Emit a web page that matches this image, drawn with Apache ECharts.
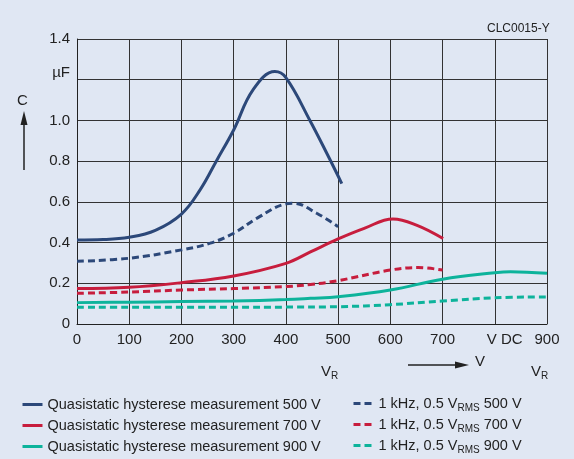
<!DOCTYPE html>
<html>
<head>
<meta charset="utf-8">
<script src="https://cdn.jsdelivr.net/npm/echarts@6/dist/echarts.min.js"></script>
<style>
  html, body { margin: 0; padding: 0; background: #e0e7f3; }
  #chart { width: 574px; height: 459px; }
</style>
</head>
<body>
<div id="chart"></div>
<script>
// values (V, uF)
var xTicks = ['0', '100', '200', '300', '400', '500', '600', '700', 'V DC', '900'];
var yTicks = ['0', '0.2', '0.4', '0.6', '0.8', '1.0', 'µF', '1.4'];

var q500X = [0, 50, 100, 150, 200, 236, 268, 300, 337, 379, 400, 446, 480, 507];
var q500Y = [0.413, 0.415, 0.426, 0.46, 0.54, 0.66, 0.806, 0.953, 1.15, 1.24, 1.21, 1.0, 0.83, 0.69];
var k500X = [0, 100, 200, 255, 300, 345, 400, 415, 459, 500];
var k500Y = [0.308, 0.323, 0.364, 0.397, 0.446, 0.52, 0.59, 0.593, 0.544, 0.478];

var q700X = [0, 100, 200, 300, 400, 447, 500, 550, 605, 650, 701];
var q700Y = [0.174, 0.18, 0.203, 0.236, 0.298, 0.354, 0.418, 0.47, 0.516, 0.486, 0.42];
var k700X = [0, 100, 200, 300, 400, 447, 500, 600, 653, 700];
var k700Y = [0.151, 0.157, 0.167, 0.174, 0.184, 0.194, 0.213, 0.265, 0.277, 0.265];

var q900X = [0, 100, 200, 300, 400, 447, 500, 600, 700, 800, 830, 900];
var q900Y = [0.105, 0.107, 0.11, 0.113, 0.12, 0.126, 0.134, 0.167, 0.22, 0.252, 0.257, 0.249];
var k900X = [0, 100, 200, 300, 400, 500, 600, 700, 800, 900];
var k900Y = [0.082, 0.082, 0.082, 0.082, 0.083, 0.085, 0.095, 0.113, 0.129, 0.133];

var navy = '#2c4879';
var red = '#c71d3d';
var teal = '#0db39b';
var font = 'Liberation Sans, Arial, sans-serif';

function pairs(xs, ys) {
  var arr = [];
  for (var i = 0; i < xs.length; i++) {
    arr.push([xs[i], ys[i]]);
  }
  return arr;
}

function mkSeries(name, xs, ys, color, dashed) {
  return {
    name: name,
    type: 'line',
    smooth: 0.4,
    symbol: 'none',
    data: pairs(xs, ys),
    lineStyle: { color: color, width: 3, type: dashed ? [7, 4] : 'solid' },
    itemStyle: { color: color },
    z: 5
  };
}

var series = [
  mkSeries('Quasistatic hysterese measurement 500 V', q500X, q500Y, navy, false),
  mkSeries('Quasistatic hysterese measurement 700 V', q700X, q700Y, red, false),
  mkSeries('Quasistatic hysterese measurement 900 V', q900X, q900Y, teal, false),
  mkSeries('1 kHz, 0.5 VRMS 500 V', k500X, k500Y, navy, true),
  mkSeries('1 kHz, 0.5 VRMS 700 V', k700X, k700Y, red, true),
  mkSeries('1 kHz, 0.5 VRMS 900 V', k900X, k900Y, teal, true)
];

var legendText = {
  fontFamily: font,
  fontSize: 14.5,
  color: '#222',
  rich: {
    sub: { fontFamily: font, fontSize: 10, color: '#222', padding: [9, 0, 0, 0] }
  }
};

// one legend per row so the rows sit where the reference has them
var rowTops = [392, 413, 434];
var legends = [];
series.forEach(function (s, i) {
  var right = i >= 3;
  legends.push({
    orient: 'horizontal',
    left: right ? 347 : 16,
    top: rowTops[i % 3] - (right ? 1 : 0),
    itemWidth: 20,
    itemHeight: 14,
    itemStyle: { opacity: 0 },
    lineStyle: { width: 3 },
    textStyle: legendText,
    formatter: function (name) { return name.replace('VRMS', 'V{sub|RMS}'); },
    data: [s.name]
  });
});

var myChart = echarts.init(document.getElementById('chart'));
var option = {
  backgroundColor: '#e0e7f3',
  animation: false,
  grid: { left: 77, right: 27, top: 39, bottom: 135 },
  xAxis: {
    type: 'value',
    min: 0,
    max: 900,
    interval: 100,
    axisLine: { show: true, lineStyle: { color: '#222', width: 1 } },
    axisTick: { show: false },
    splitLine: { show: true, lineStyle: { color: '#333', width: 1 } },
    axisLabel: {
      margin: 8,
      fontFamily: font,
      fontSize: 15,
      color: '#222',
      formatter: function (v) {
        var s = xTicks[Math.round(v / 100)];
        return s === 'V DC' ? '{vdc|' + s + '}' : s;
      },
      rich: { vdc: { fontFamily: font, fontSize: 15, color: '#222', padding: [0, 0, 0, 20] } }
    }
  },
  yAxis: {
    type: 'value',
    min: 0,
    max: 1.4,
    interval: 0.2,
    axisLine: { show: true, lineStyle: { color: '#222', width: 1 } },
    axisTick: { show: false },
    splitLine: { show: true, lineStyle: { color: '#333', width: 1 } },
    axisLabel: {
      margin: 7,
      fontFamily: font,
      fontSize: 15,
      color: '#222',
      formatter: function (v) {
        var s = yTicks[Math.round(v / 0.2)];
        return s === 'µF' ? '{u|' + s + '}' : s;
      },
      rich: { u: { fontFamily: font, fontSize: 15, color: '#222', padding: [0, 0, 14, 0] } }
    }
  },
  legend: legends,
  graphic: [
    { type: 'text', left: 487, top: 23, style: { text: 'CLC0015-Y', font: '12px ' + font, fill: '#222' } },
    { type: 'text', left: 17, top: 93, style: { text: 'C', font: '15px ' + font, fill: '#222' } },
    { type: 'line', shape: { x1: 24, y1: 170, x2: 24, y2: 122 }, style: { stroke: '#222', lineWidth: 1.5 } },
    { type: 'polygon', shape: { points: [[24, 111], [20.5, 125], [27.5, 125]] }, style: { fill: '#222' } },
    { type: 'line', shape: { x1: 408, y1: 365, x2: 458, y2: 365 }, style: { stroke: '#222', lineWidth: 1.5 } },
    { type: 'polygon', shape: { points: [[469, 365], [455, 361.5], [455, 368.5]] }, style: { fill: '#222' } },
    { type: 'text', left: 475, top: 354, style: { text: 'V', font: '15px ' + font, fill: '#222' } },
    {
      type: 'text', left: 321, top: 364,
      style: {
        text: 'V{sub|R}', font: '15px ' + font, fill: '#222',
        rich: { sub: { font: '10px ' + font, fill: '#222', padding: [9, 0, 0, 0] } }
      }
    },
    {
      type: 'text', left: 531, top: 364,
      style: {
        text: 'V{sub|R}', font: '15px ' + font, fill: '#222',
        rich: { sub: { font: '10px ' + font, fill: '#222', padding: [9, 0, 0, 0] } }
      }
    }
  ],
  series: series
};
myChart.setOption(option);
</script>
</body>
</html>
